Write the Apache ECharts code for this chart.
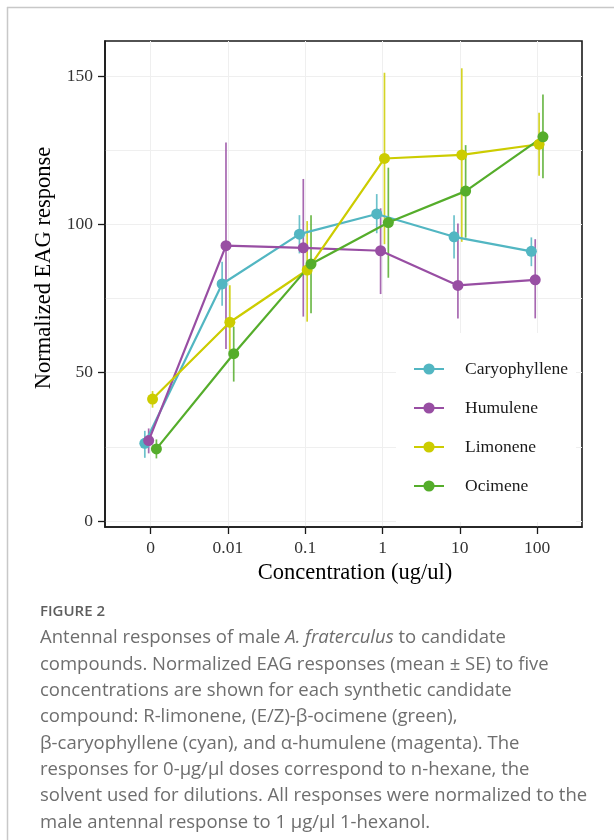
<!DOCTYPE html>
<html>
<head>
<meta charset="utf-8">
<script src="https://cdn.jsdelivr.net/npm/echarts@6/dist/echarts.min.js"></script>
<style>
html,body{margin:0;padding:0;background:#fff;}
#chart{width:614px;height:840px;}
</style>
</head>
<body>
<div id="chart"></div>
<script>
// ---- data ----
const concLabels = ['0', '0.01', '0.1', '1', '10', '100'];
const yTicks = [0, 50, 100, 150];
const seriesNames = ['Caryophyllene', 'Humulene', 'Limonene', 'Ocimene'];

const caryMean = [26.2, 79.9, 96.7, 103.5, 95.8, 90.9];
const caryLow  = [21.3, 72.6, 90.2, 97.0, 88.5, 85.9];
const caryHigh = [30.4, 87.4, 103.1, 110.2, 103.1, 95.6];

const humMean = [27.1, 92.8, 92.1, 91.1, 79.4, 81.3];
const humLow  = [22.8, 58.0, 68.9, 76.5, 68.3, 68.3];
const humHigh = [31.2, 127.6, 115.3, 105.4, 100.3, 95.0];

const limMean = [41.1, 67.0, 84.6, 122.2, 123.4, 127.0];
const limLow  = [38.2, 57.6, 67.2, 93.3, 94.1, 116.4];
const limHigh = [43.8, 79.5, 101.1, 151.1, 152.6, 137.6];

const ociMean = [24.3, 56.4, 86.6, 100.6, 111.2, 129.5];
const ociLow  = [21.1, 47.0, 70.0, 82.0, 95.5, 115.5];
const ociHigh = [27.5, 65.5, 103.1, 119.1, 126.7, 143.8];

// ---- styling ----
const colors = ['#52B6C2', '#984EA3', '#CCCC00', '#55AD2B'];
const dodge = [-0.075, -0.025, 0.025, 0.075];
const means = [caryMean, humMean, limMean, ociMean];
const lows = [caryLow, humLow, limLow, ociLow];
const highs = [caryHigh, humHigh, limHigh, ociHigh];
const serif = 'Liberation Serif';

const chart = echarts.init(document.getElementById('chart'), null, {renderer: 'canvas'});

const series = [];
// faint panel grid lines
const gridY = [];
for (let v = 0; v <= 150; v += 25) gridY.push({yAxis: v});
const gridX = concLabels.map((_, i) => ({xAxis: i}));
series.push({
  type: 'line', name: 'gridlines', data: [], silent: true, z: 0,
  markLine: {
    silent: true, symbol: 'none', animation: false, z: 0,
    label: {show: false},
    emphasis: {disabled: true},
    lineStyle: {color: '#efefef', width: 1, type: 'solid'},
    data: gridY.concat(gridX)
  }
});

seriesNames.forEach((name, k) => {
  // error bars (mean ± SE)
  series.push({
    type: 'custom', name: name + ' SE', z: 2, silent: true,
    data: concLabels.map((_, i) => [i + dodge[k], lows[k][i], highs[k][i]]),
    encode: {x: 0, y: [1, 2]},
    renderItem: (params, api) => {
      const x = api.value(0);
      const p1 = api.coord([x, api.value(1)]);
      const p2 = api.coord([x, api.value(2)]);
      return {
        type: 'line',
        shape: {x1: p1[0], y1: p1[1], x2: p2[0], y2: p2[1]},
        style: {stroke: colors[k], lineWidth: 1.7, opacity: 0.85}
      };
    }
  });
});

seriesNames.forEach((name, k) => {
  series.push({
    type: 'line', name: name, z: 3,
    data: concLabels.map((_, i) => [i + dodge[k], means[k][i]]),
    symbol: 'circle', symbolSize: 11,
    itemStyle: {color: colors[k]},
    lineStyle: {color: colors[k], width: 2.2},
    emphasis: {disabled: true},
    animation: false
  });
});

const option = {
  animation: false,
  backgroundColor: '#ffffff',
  grid: {
    left: 105, top: 41, right: 32, bottom: 313,
    show: true, borderColor: '#1a1a1a', borderWidth: 1.6, backgroundColor: 'transparent'
  },
  xAxis: {
    type: 'value', min: -0.59, max: 5.58,
    name: 'Concentration (ug/ul)', nameLocation: 'middle', nameGap: 34,
    nameTextStyle: {fontFamily: serif, fontSize: 22.5, color: '#000', padding: [0, 0, 0, 23]},
    axisLine: {show: true, onZero: false, lineStyle: {color: '#1a1a1a', width: 1.6}},
    axisTick: {show: true, length: 7, customValues: [0, 1, 2, 3, 4, 5], lineStyle: {color: '#1a1a1a', width: 1.3}},
    axisLabel: {
      customValues: [0, 1, 2, 3, 4, 5], margin: 12,
      formatter: v => concLabels[Math.round(v)],
      fontFamily: serif, fontSize: 17.5, color: '#333'
    },
    splitLine: {show: false}
  },
  yAxis: {
    type: 'value', min: -2.02, max: 161.8,
    name: 'Normalized EAG response', nameLocation: 'middle', nameGap: 40,
    nameTextStyle: {fontFamily: serif, fontSize: 22.5, color: '#000', padding: [0, 0, 0, 32]},
    axisLine: {show: true, onZero: false, lineStyle: {color: '#1a1a1a', width: 1.6}},
    axisTick: {show: true, length: 7, customValues: yTicks, lineStyle: {color: '#1a1a1a', width: 1.3}},
    axisLabel: {customValues: yTicks, margin: 12, fontFamily: serif, fontSize: 17.5, color: '#333'},
    splitLine: {show: false}
  },
  legend: {
    orient: 'vertical', left: 396, top: 333, z: 10,
    data: seriesNames,
    itemWidth: 30, itemHeight: 14, itemGap: 19,
    backgroundColor: '#ffffff',
    padding: [26, 8, 26, 17],
    selectedMode: false,
    textStyle: {fontFamily: serif, fontSize: 17.5, color: '#1a1a1a', lineHeight: 20, padding: [0, 0, 0, 16]}
  },
  graphic: [
    {type: 'line', silent: true, shape: {x1: 7, y1: 7.5, x2: 614, y2: 7.5}, style: {stroke: '#c8c8c8', lineWidth: 1.5}},
    {type: 'line', silent: true, shape: {x1: 7.5, y1: 7, x2: 7.5, y2: 840}, style: {stroke: '#c8c8c8', lineWidth: 1.5}},
    {
      type: 'text', left: 40, top: 604, silent: true,
      style: {text: 'FIGURE 2', fontFamily: 'Open Sans', fontSize: 15, fontWeight: 600, fill: '#5e5e5e'}
    },
    {
      type: 'text', left: 40, top: 625, silent: true,
      style: {
        text: [
          'Antennal responses of male {i|A. fraterculus} to candidate',
          'compounds. Normalized EAG responses (mean ± SE) to five',
          'concentrations are shown for each synthetic candidate',
          'compound: R-limonene, (E/Z)-β-ocimene (green),',
          'β-caryophyllene (cyan), and α-humulene (magenta). The',
          'responses for 0-μg/μl doses correspond to n-hexane, the',
          'solvent used for dilutions. All responses were normalized to the',
          'male antennal response to 1 μg/μl 1-hexanol.'
        ].join('\n'),
        fontFamily: 'Open Sans', fontSize: 18.5, fill: '#6e6e6e', lineHeight: 26.3,
        rich: {
          i: {fontFamily: 'Open Sans', fontSize: 18.5, fontStyle: 'italic', fill: '#6e6e6e', lineHeight: 26.3}
        }
      }
    }
  ],
  series: series
};
chart.setOption(option);
</script>
</body>
</html>
